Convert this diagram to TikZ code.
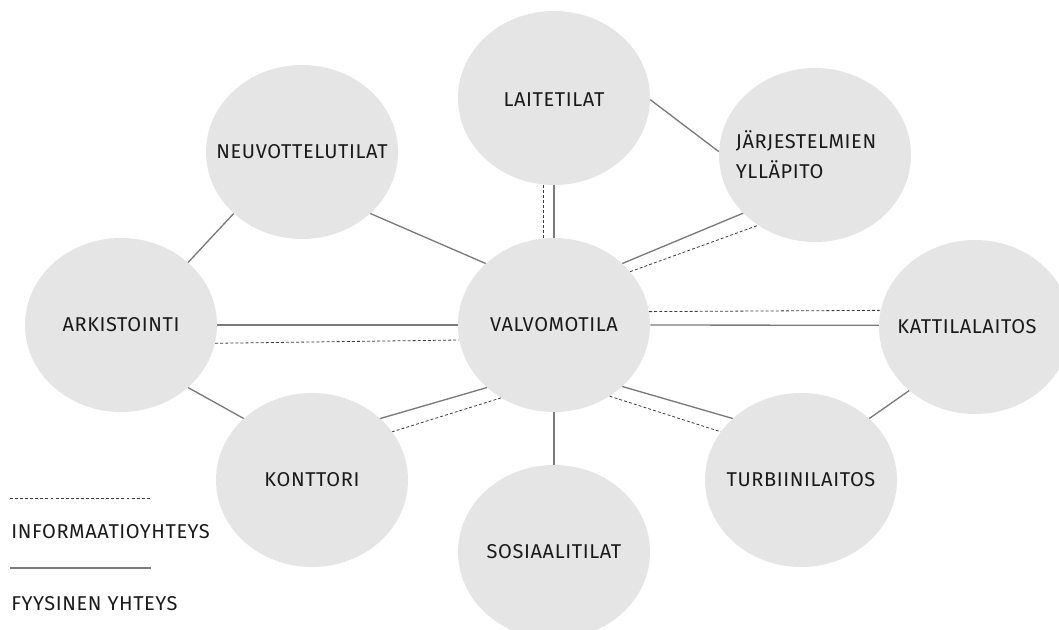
\documentclass[tikz,border=0pt]{standalone}
\usepackage{fontspec}
\setmainfont{Fira Sans}[LetterSpace=3]
\usetikzlibrary{shapes.geometric}
\definecolor{circ}{HTML}{E5E5E5}
\definecolor{sol}{HTML}{7A7A7A}
\definecolor{dsh}{HTML}{3C3C3C}
\definecolor{txt}{HTML}{1A1A1A}
\tikzset{
  room/.style={ellipse, fill=circ, draw=none, minimum width=144pt, minimum height=130.5pt, inner sep=0pt},
  lbl/.style={text=txt, font=\fontsize{15}{22.5}\selectfont, inner sep=0pt},
  solidc/.style={draw=sol, line width=1pt},
  dashc/.style={draw=dsh, line width=0.6pt, dash pattern=on 2.2pt off 1.6pt}
}
\begin{document}
\begin{tikzpicture}[x=0.75pt,y=-0.75pt]
\clip (0,0) rectangle (1059,630);
\fill[white] (0,0) rectangle (1059,630);
% rooms
\node[room] (V) at (554,325) {};
\node[room] (L) at (554,98) {};
\node[room] (N) at (302,152) {};
\node[room] (J) at (815,155) {};
\node[room] (A) at (121,325) {};
\node[room] (K) at (975,327) {};
\node[room] (Ko) at (312,480) {};
\node[room] (T) at (801,480) {};
\node[room] (S) at (554,552) {};
% labels
\node[lbl] (Vt) at (V.center) {VALVOMOTILA};
\node[lbl] (Lt) at (554,100) {LAITETILAT};
\node[lbl] (Nt) at (N.center) {NEUVOTTELUTILAT};
\node[lbl, align=left] (Jt) at (806,155) {JÄRJESTELMIEN\\YLLÄPITO};
\node[lbl] (At) at (A.center) {ARKISTOINTI};
\node[lbl] (Kt) at (967,327) {KATTILALAITOS};
\node[lbl] (Kot) at (Ko.center) {KONTTORI};
\node[lbl] (Tt) at (T.center) {TURBIINILAITOS};
\node[lbl] (St) at (S.center) {SOSIAALITILAT};
% connectors
\draw[solidc] (N.222) -- (A.43);
\draw[solidc] (N.318) -- (V.138);
\draw[solidc] (L.359) -- (J.178);
\draw[solidc] (L.south) -- (V.north);
\draw[dashc] (L.263) -- (V.97);
\draw[solidc] (V.42) -- (J.219);
\draw[dashc] (V.35) -- (J.231);
\draw[solidc] (A.east) -- (V.west);
\draw[dashc] (A.349) -- (V.189);
\draw[dashc] (V.8) -- (K.170);
\draw[solidc] (V.east) -- (K.179);
\draw[solidc] (V.223) -- (Ko.42);
\draw[dashc] (V.234) -- (Ko.31);
\draw[solidc] (V.south) -- (S.north);
\draw[solidc] (V.318) -- (T.138);
\draw[dashc] (V.308) -- (T.149);
\draw[solidc] (A.317) -- (Ko.138);
\draw[solidc] (T.42) -- (K.224);
% legend
\coordinate (d1) at (10,498);
\coordinate (d2) at (150,498);
\draw[dashc] (d1) -- (d2);
\node[lbl, anchor=base west] (li) at (11,538) {INFORMAATIOYHTEYS};
\coordinate (s1) at (10,568);
\coordinate (s2) at (151,568);
\draw[solidc] (s1) -- (s2);
\node[lbl, anchor=base west] (lf) at (11,610) {FYYSINEN YHTEYS};
\end{tikzpicture}
\end{document}
